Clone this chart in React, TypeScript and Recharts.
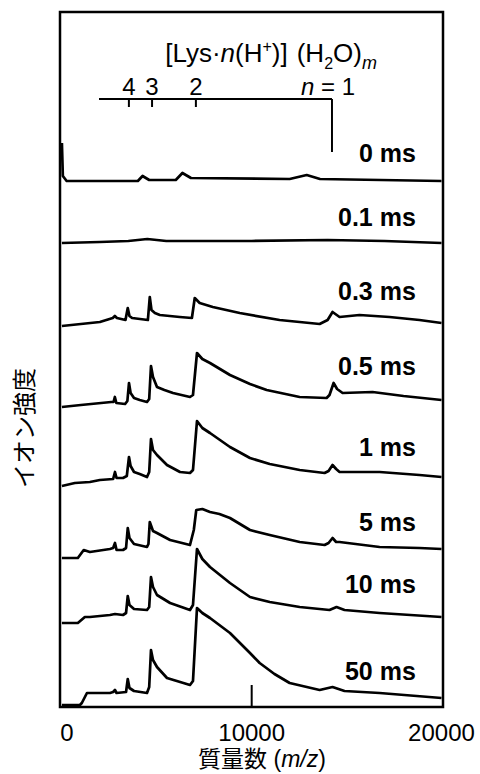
import { ComposedChart, Line, XAxis, YAxis, ReferenceArea, ReferenceLine, ReferenceDot } from 'recharts'

// spectra: [m/z, intensity above the trace's own baseline]
const spec0ms: [number, number][] = [
  [0, 38], [50, 5], [250, 0], [1500, 0], [4000, 0], [4250, 5], [4600, 1], [6000, 1], [6350, 8],
  [6800, 3], [12000, 2], [12900, 6], [13600, 2], [20000, 0],
]
const spec01ms: [number, number][] = [
  [0, 0], [2000, 1], [3500, 2], [4500, 4], [5500, 2], [10000, 2], [14000, 3], [17000, 2], [20000, 0],
]
const spec03ms: [number, number][] = [
  [0, 0], [2000, 4], [2680, 8], [2790, 10], [2900, 8], [3350, 6], [3470, 18], [3560, 10], [3700, 8],
  [4530, 6], [4630, 29], [4720, 16], [4900, 13], [5160, 11], [6210, 9], [6850, 8], [7000, 28],
  [7260, 23], [7950, 19], [9370, 13], [11470, 6], [13580, 2], [14000, 6], [14260, 14], [14630, 9],
  [15680, 11], [17260, 9], [18840, 6], [20000, 3],
]
const spec05ms: [number, number][] = [
  [0, 0], [1000, 2], [2600, 5], [2720, 5], [2790, 10], [2870, 4], [3330, 3], [3450, 6], [3535, 24],
  [3620, 14], [3800, 9], [4100, 7], [4484, 5], [4600, 8], [4694, 41], [4800, 30], [5010, 20],
  [5400, 17], [5854, 14], [6749, 10], [6907, 12], [7118, 54], [7400, 48], [7803, 44], [8856, 32],
  [9910, 23], [10789, 17], [12526, 10], [13947, 9], [14100, 12], [14316, 24], [14500, 18], [14790, 14],
  [16368, 15], [18000, 11], [20000, 7],
]
const spec1ms: [number, number][] = [
  [0, 0], [680, 3], [1475, 4], [2000, 6], [2700, 7], [2797, 14], [2880, 8], [3219, 8], [3420, 10],
  [3535, 29], [3620, 20], [3800, 14], [4100, 12], [4484, 9], [4600, 14], [4694, 47], [4800, 36],
  [5010, 31], [5537, 21], [6222, 14], [6749, 13], [6907, 16], [7118, 65], [7400, 58], [7803, 53],
  [8856, 39], [9910, 28], [10950, 22], [12530, 16], [13840, 13], [14050, 15], [14260, 21], [14450, 17],
  [14630, 14], [16740, 14], [18840, 11], [20000, 9],
]
const spec5ms: [number, number][] = [
  [0, 0], [840, 0], [1150, 8], [1475, 6], [2530, 9], [2700, 10], [2797, 15], [2880, 8], [3219, 8],
  [3380, 10], [3470, 30], [3560, 20], [3800, 14], [4484, 11], [4560, 14], [4630, 36], [4800, 27],
  [5010, 25], [5700, 18], [6749, 13], [6950, 28], [7080, 48], [7400, 49], [7803, 46], [8300, 44],
  [8856, 40], [9910, 28], [10950, 23], [12530, 16], [13840, 13], [14050, 15], [14260, 20], [14450, 16],
  [14630, 16], [16740, 11], [18840, 10], [20000, 9],
]
const spec10ms: [number, number][] = [
  [0, 0], [840, 0], [1210, 6], [1475, 6], [2530, 8], [2797, 9], [3219, 8], [3380, 10], [3470, 27],
  [3560, 18], [3800, 14], [4484, 13], [4600, 16], [4694, 46], [4800, 36], [5010, 28], [5700, 20],
  [6749, 13], [6907, 18], [7118, 74], [7400, 64], [7803, 56], [8856, 40], [9910, 26], [10950, 21],
  [12530, 16], [14100, 13], [14470, 16], [14890, 13], [16740, 10], [20000, 6],
]
const spec50ms: [number, number][] = [
  [0, 0], [950, 0], [1050, 2], [1320, 12], [2530, 12], [2700, 13], [2797, 15], [2880, 12], [3380, 13],
  [3470, 26], [3560, 17], [3800, 14], [4484, 12], [4600, 18], [4694, 55], [4800, 45], [5010, 38],
  [5537, 27], [6749, 20], [6907, 24], [7118, 97], [7400, 92], [7803, 87], [8856, 72], [9910, 52],
  [10420, 42], [11200, 31], [12000, 22], [13580, 15], [14260, 18], [14890, 14], [16740, 12], [20000, 7],
]

const delays = ['0 ms', '0.1 ms', '0.3 ms', '0.5 ms', '1 ms', '5 ms', '10 ms', '50 ms']
const spectra = [spec0ms, spec01ms, spec03ms, spec05ms, spec1ms, spec5ms, spec10ms, spec50ms]
const baselines = [526, 464, 381, 300, 221, 149, 84, 2]

// [Lys·n(H+)] peak positions for n = 4, 3, 2 and 1
const chargeStates = ['4', '3', '2']
const chargePeaks = [3530, 4750, 7060]
const monomerPeak = 14230

const xTicks = [0, 10000, 20000]

// layout constants
const labelLevels = [554, 490, 416, 341, 260, 185, 123, 36]
const labelX = 18650
const font = '"Liberation Sans", Arial, sans-serif'

const XTick = (props: any) => {
  const { x, y, payload } = props
  const dx = payload.value === 0 ? 5 : 0
  return (
    <text x={x + dx} y={y + 16} textAnchor="middle" fontSize={24} fontFamily={font} fill="#000">
      {payload.value}
    </text>
  )
}

const textAt = (content: any, anchor = 'middle', size = 24, weight = 'normal') => (p: any) => (
  <text x={p.cx} y={p.cy} textAnchor={anchor} fontSize={size} fontWeight={weight} fontFamily={font} fill="#000">
    {content}
  </text>
)

export default function App() {
  return (
    <div style={{ position: 'absolute', left: 0, top: 0, width: 480, height: 774, background: '#fff' }}>
      <ComposedChart width={480} height={774} margin={{ top: 12, right: 37, left: 60, bottom: 27 }}>
        <XAxis
          dataKey="mz"
          type="number"
          domain={[-100, 20080]}
          ticks={xTicks}
          allowDataOverflow
          axisLine={false}
          tickLine={false}
          tickSize={0}
          tickMargin={18}
          height={40}
          tick={<XTick />}
        />
        <YAxis hide type="number" domain={[0, 695]} allowDataOverflow />
        <ReferenceArea x1={-100} x2={20080} y1={0} y2={695} fill="none" stroke="#000" strokeWidth={2.5} />
        <ReferenceLine segment={[{ x: 10000, y: 0 }, { x: 10000, y: 22 }]} stroke="#000" strokeWidth={2} />
        {spectra.map((s, i) => (
          <Line
            key={delays[i]}
            data={s.map(([mz, v]) => ({ mz, v: v + baselines[i] }))}
            dataKey="v"
            type="linear"
            stroke="#000"
            strokeWidth={2.7}
            strokeLinejoin="round"
            dot={false}
            activeDot={false}
            isAnimationActive={false}
          />
        ))}
        {delays.map((d, i) => (
          <ReferenceDot key={'l' + d} x={labelX} y={labelLevels[i] - 9} r={0} shape={textAt(d, 'end', 25, 'bold')} />
        ))}
        <ReferenceLine segment={[{ x: 1955, y: 608 }, { x: monomerPeak, y: 608 }]} stroke="#000" strokeWidth={2} />
        <ReferenceLine segment={[{ x: monomerPeak, y: 608 }, { x: monomerPeak, y: 555 }]} stroke="#000" strokeWidth={2} />
        {chargePeaks.map((m) => (
          <ReferenceLine key={'t' + m} segment={[{ x: m, y: 608 }, { x: m, y: 600 }]} stroke="#000" strokeWidth={2} />
        ))}
        {chargePeaks.map((m, i) => (
          <ReferenceDot key={'c' + m} x={m} y={612} r={0} shape={textAt(chargeStates[i])} />
        ))}
        <ReferenceDot
          x={14020}
          y={612}
          r={0}
          shape={textAt(<><tspan fontStyle="italic">n</tspan> = 1</>)}
        />
        <ReferenceDot
          x={11020}
          y={645}
          r={0}
          shape={textAt(
            <>
              [Lys·<tspan fontStyle="italic">n</tspan>(H<tspan dy={-10} fontSize={16}>+</tspan>
              <tspan dy={10}>)]</tspan>
              <tspan dx={9}>(H</tspan>
              <tspan dy={7} fontSize={16}>2</tspan>
              <tspan dy={-7}>O)</tspan>
              <tspan dy={7} fontSize={18} fontStyle="italic">m</tspan>
            </>,
            'middle',
            26,
          )}
        />
      </ComposedChart>
      <div
        style={{
          position: 'absolute', left: 112, top: 749, width: 300, textAlign: 'center',
          fontSize: 23, lineHeight: '20px', fontFamily: '"Liberation Sans", "Noto Sans CJK JP", sans-serif',
        }}
      >
        質量数 (<i>m/z</i>)
      </div>
      <div
        style={{
          position: 'absolute', left: -77, top: 415, width: 200, height: 26, textAlign: 'center',
          fontSize: 24, lineHeight: '26px', fontFamily: '"Noto Sans CJK JP", sans-serif',
          transform: 'rotate(-90deg)',
        }}
      >
        イオン強度
      </div>
    </div>
  )
}
